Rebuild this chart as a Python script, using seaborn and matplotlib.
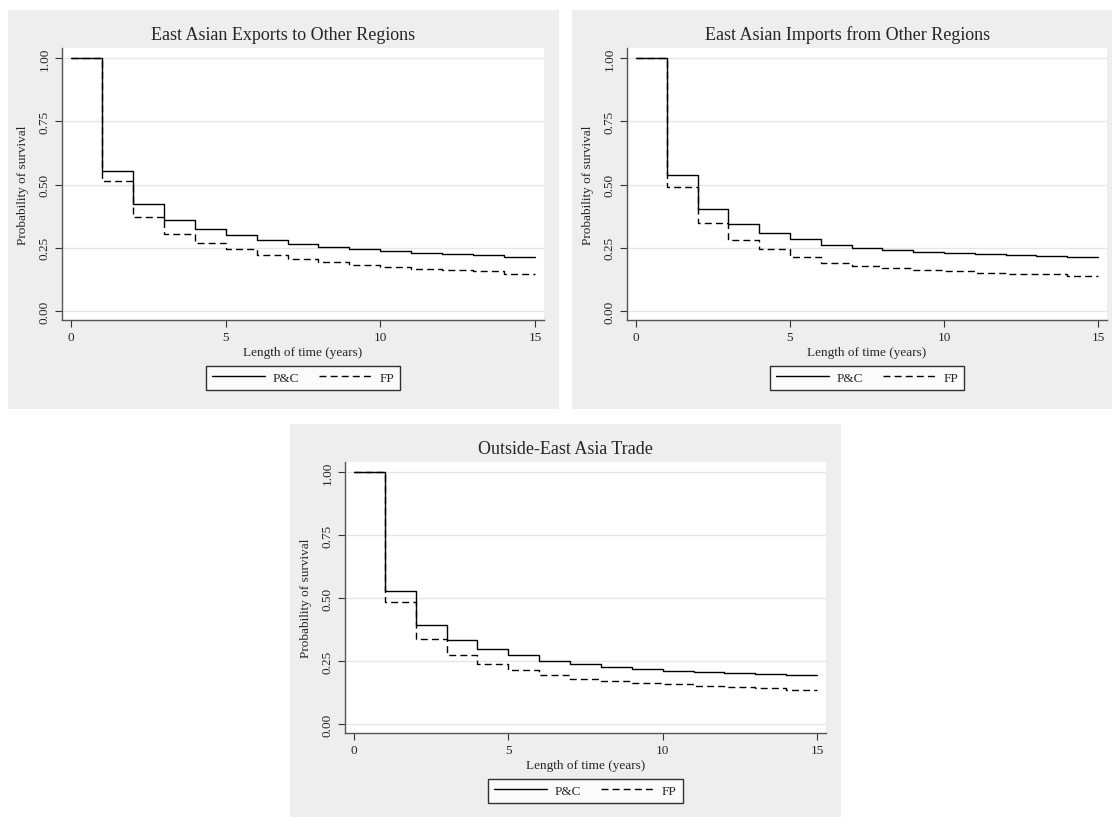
import matplotlib
matplotlib.use('Agg')
import matplotlib.pyplot as plt
import seaborn as sns
import pandas as pd
from matplotlib.patches import Rectangle

# survival estimates, years 0..14 (last step held to year 15)
years = list(range(16))

exp_pc = [1.0, 0.554, 0.421, 0.360, 0.324, 0.300, 0.282, 0.263, 0.253, 0.243, 0.236, 0.228, 0.224, 0.220, 0.213]
exp_fp = [1.0, 0.514, 0.371, 0.305, 0.267, 0.243, 0.222, 0.207, 0.192, 0.183, 0.175, 0.167, 0.162, 0.157, 0.146]

imp_pc = [1.0, 0.538, 0.403, 0.342, 0.307, 0.283, 0.259, 0.249, 0.241, 0.233, 0.228, 0.224, 0.220, 0.218, 0.213]
imp_fp = [1.0, 0.491, 0.347, 0.280, 0.243, 0.213, 0.191, 0.178, 0.170, 0.163, 0.157, 0.151, 0.147, 0.145, 0.139]

out_pc = [1.0, 0.529, 0.393, 0.334, 0.296, 0.275, 0.251, 0.236, 0.225, 0.217, 0.212, 0.208, 0.204, 0.200, 0.193]
out_fp = [1.0, 0.484, 0.338, 0.275, 0.238, 0.213, 0.193, 0.180, 0.170, 0.162, 0.157, 0.150, 0.146, 0.143, 0.136]

titles = ['East Asian Exports to Other Regions',
          'East Asian Imports from Other Regions',
          'Outside-East Asia Trade']
groups = ['P&C', 'FP']
y_ticks = [0, 0.25, 0.5, 0.75, 1.0]
x_ticks = [0, 5, 10, 15]

sns.set_style('white')
plt.rcParams['font.family'] = ['Liberation Serif', 'DejaVu Serif']

W, H = 1112, 820
fig = plt.figure(figsize=(W / 100, H / 100), dpi=100)
bg = '#eeeeee'

# panel layout in pixels: (bg box), (axes box), title center
panels = [
    ((8, 11, 559, 410), (62, 49, 544, 321), 283),
    ((572, 11, 1112, 410), (627, 49, 1107, 321), 848),
    ((290, 425, 841, 818), (345, 463, 826, 734), 565),
]
series = [(exp_pc, exp_fp), (imp_pc, imp_fp), (out_pc, out_fp)]


def make_frame(pc, fp):
    rows = []
    for name, vals in zip(groups, [pc, fp]):
        vals = vals + [vals[-1]]
        for t, s in zip(years, vals):
            rows.append({'year': t, 'surv': s, 'group': name})
    return pd.DataFrame(rows)


for (bgbox, axbox, tx), (pc, fp), title in zip(panels, series, titles):
    x0, y0, x1, y1 = bgbox
    fig.add_artist(Rectangle((x0 / W, 1 - y1 / H), (x1 - x0) / W, (y1 - y0) / H,
                             transform=fig.transFigure, facecolor=bg,
                             edgecolor='none', zorder=0))
    a0, b0, a1, b1 = axbox
    ax = fig.add_axes([a0 / W, 1 - b1 / H, (a1 - a0) / W, (b1 - b0) / H])
    ax.set_zorder(1)

    df = make_frame(pc, fp)
    sns.lineplot(data=df, x='year', y='surv', style='group', style_order=groups,
                 dashes={'P&C': '', 'FP': (5, 3)}, color='black', linewidth=1.0,
                 drawstyle='steps-post', ax=ax, legend=True)

    ax.set_xlim(-0.29, 15.29)
    ax.set_ylim(-0.036, 1.04)
    ax.set_xticks(x_ticks)
    ax.set_yticks(y_ticks)
    ax.set_yticklabels(['0.00', '0.25', '0.50', '0.75', '1.00'], rotation=90, va='center')
    ax.tick_params(axis='both', direction='out', length=5, width=0.8, color='#333333',
                   labelsize=9.5, pad=3, left=True, bottom=True)
    ax.grid(axis='y', color='#e6e6e6', linewidth=1.0)
    ax.set_axisbelow(True)
    for s in ['top', 'right']:
        ax.spines[s].set_visible(False)
    for s in ['left', 'bottom']:
        ax.spines[s].set_color('#555555')
        ax.spines[s].set_linewidth(1.0)

    ax.set_xlabel('Length of time (years)', fontsize=9.5)
    ax.set_ylabel('Probability of survival', fontsize=9.5)
    ax.xaxis.set_label_coords(0.5, -0.097)
    ax.yaxis.set_label_coords(-0.068, 0.5)

    leg = ax.legend(loc='center', bbox_to_anchor=(0.5, -0.213), ncol=2,
                    fontsize=9.5, frameon=True, fancybox=False, handlelength=4.0,
                    columnspacing=1.5, handletextpad=0.6, borderpad=0.45)
    leg.get_frame().set_edgecolor('black')
    leg.get_frame().set_linewidth(1.0)
    leg.get_frame().set_facecolor('white')

    fig.text(tx / W, 1 - (b0 - 14) / H, title, ha='center', va='center', fontsize=13)

fig.savefig('out.png', dpi=100)
